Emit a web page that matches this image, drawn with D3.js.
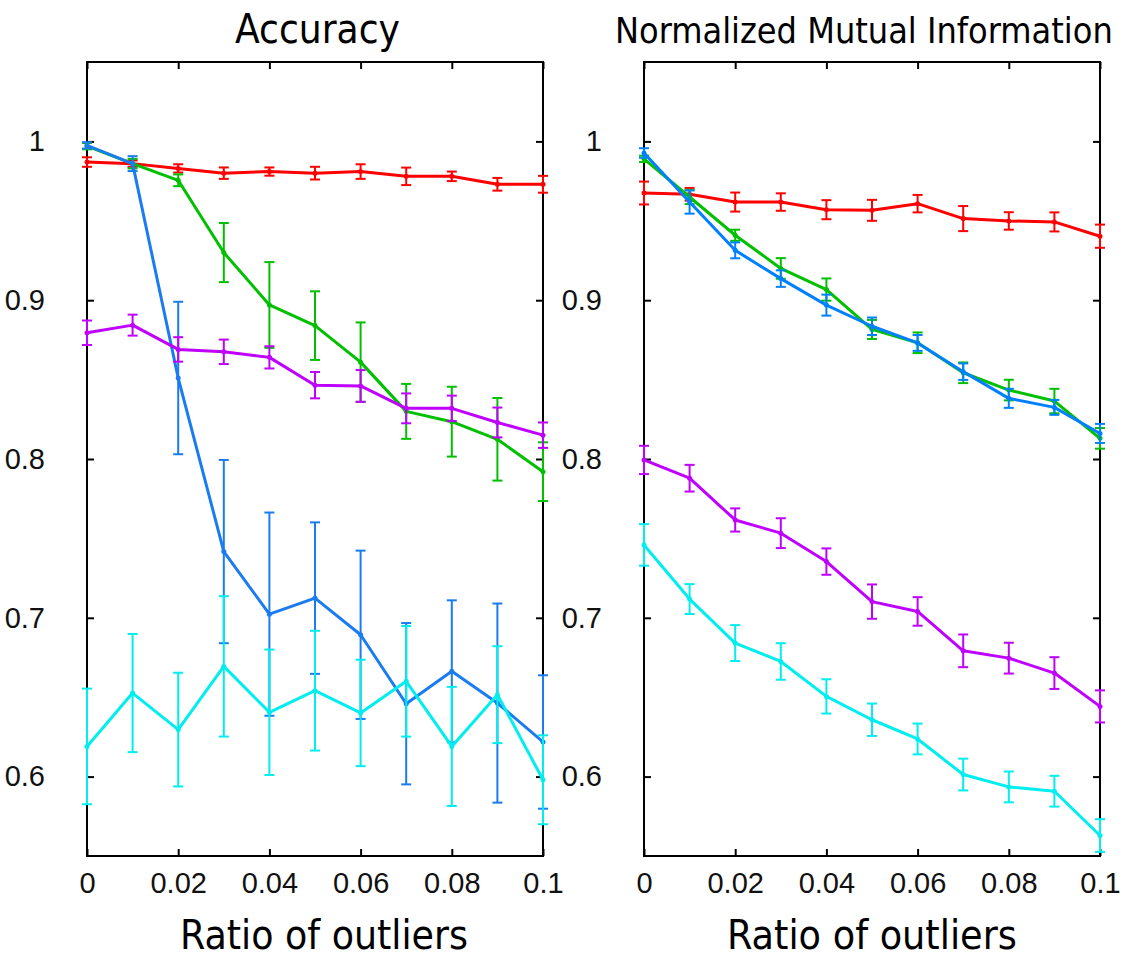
<!DOCTYPE html>
<html><head><meta charset="utf-8">
<script src="https://cdn.jsdelivr.net/npm/d3@7"></script>
<style>body{margin:0;background:#fff}svg{display:block}</style>
</head><body>
<script>
const xs = [0,0.01,0.02,0.03,0.04,0.05,0.06,0.07,0.08,0.09,0.1];
const xTicks = [0,0.02,0.04,0.06,0.08,0.1];
const xTickLabels = ["0","0.02","0.04","0.06","0.08","0.1"];
const yTicks = [0.6,0.7,0.8,0.9,1];
const yTickLabels = ["0.6","0.7","0.8","0.9","1"];
const titles = ["Accuracy","Normalized Mutual Information"];
const xLabel = "Ratio of outliers";

// Accuracy
const accRed = [0.987,0.986,0.983,0.980,0.981,0.980,0.981,0.978,0.978,0.973,0.973];
const accRedErr = [0.003,0.002,0.0026,0.0036,0.0026,0.004,0.0046,0.0055,0.003,0.004,0.0053];
const accGreen = [0.997,0.986,0.9755,0.930,0.897,0.884,0.861,0.830,0.8235,0.8124,0.792];
const accGreenErr = [0.002,0.003,0.0037,0.0186,0.027,0.0216,0.025,0.0173,0.022,0.026,0.0185];
const accBlue = [0.9975,0.986,0.851,0.7417,0.7023,0.7124,0.6893,0.6459,0.6663,0.6463,0.6218];
const accBlueErr = [0.002,0.0047,0.048,0.0577,0.064,0.0477,0.053,0.0508,0.0447,0.0627,0.042];
const accPurple = [0.8795,0.8843,0.869,0.8675,0.864,0.8465,0.846,0.8319,0.8319,0.823,0.815];
const accPurpleErr = [0.0077,0.0066,0.0077,0.0077,0.007,0.0083,0.01,0.0094,0.008,0.0094,0.008];
const accCyan = [0.619,0.6526,0.6296,0.6694,0.6405,0.6541,0.6401,0.66,0.619,0.6516,0.598];
const accCyanErr = [0.0364,0.0372,0.0358,0.0442,0.0395,0.0377,0.0335,0.0348,0.0375,0.0305,0.028];

// NMI
const nmiRed = [0.9675,0.9667,0.9618,0.9618,0.957,0.9566,0.9608,0.9514,0.9499,0.9493,0.9403];
const nmiRedErr = [0.0072,0.004,0.006,0.0055,0.006,0.0066,0.0055,0.0079,0.0055,0.006,0.0073];
const nmiGreen = [0.989,0.965,0.9409,0.92,0.9067,0.8816,0.8732,0.8543,0.8434,0.8365,0.813];
const nmiGreenErr = [0.002,0.0045,0.0035,0.0065,0.007,0.006,0.0065,0.0065,0.0065,0.0077,0.0065];
const nmiBlue = [0.9927,0.9618,0.9314,0.9136,0.8969,0.8836,0.8731,0.855,0.8382,0.8325,0.8161];
const nmiBlueErr = [0.003,0.0073,0.005,0.0052,0.0066,0.0055,0.005,0.0052,0.006,0.0047,0.006];
const nmiPurple = [0.7994,0.7879,0.7616,0.7533,0.7354,0.7102,0.704,0.6792,0.6746,0.6652,0.6442];
const nmiPurpleErr = [0.0089,0.0084,0.0073,0.0094,0.0083,0.0108,0.009,0.0103,0.0097,0.01,0.0101];
const nmiCyan = [0.7459,0.7118,0.6841,0.6725,0.6505,0.6358,0.6237,0.6013,0.5935,0.5908,0.5629];
const nmiCyanErr = [0.0131,0.0094,0.0113,0.0115,0.0108,0.0102,0.0097,0.01,0.0097,0.0097,0.0103];

const colors = {red:"#ff0000", green:"#00c000", blue:"#0080ff", purple:"#c000ff", cyan:"#00eeee"};

const panels = [
  {title:titles[0], left:87, right:543, titleX:235, titleLen:165, titleSize:42, labelX:180, labelLen:288,
   series:[[accRed,accRedErr,colors.red],[accGreen,accGreenErr,colors.green],[accBlue,accBlueErr,"#1a7cf0"],[accPurple,accPurpleErr,colors.purple],[accCyan,accCyanErr,colors.cyan]]},
  {title:titles[1], left:644, right:1100, titleX:615, titleLen:498, titleSize:37, labelX:727, labelLen:290,
   series:[[nmiRed,nmiRedErr,colors.red],[nmiGreen,nmiGreenErr,colors.green],[nmiBlue,nmiBlueErr,colors.blue],[nmiPurple,nmiPurpleErr,colors.purple],[nmiCyan,nmiCyanErr,colors.cyan]]}
];

const W=1127,H=961, plotTop=62, plotBottom=856;
const svg = d3.select("body").append("svg").attr("width",W).attr("height",H);

function fitText(sel, size, target){
  sel.attr("font-size", size);
  const w = sel.node().getComputedTextLength();
  if (w > 0) sel.attr("font-size", size * target / w);
}

panels.forEach(p=>{
  const x = d3.scaleLinear().domain([0,0.1]).range([p.left,p.right]);
  const y = d3.scaleLinear().domain([0.55,1.05]).range([plotBottom,plotTop]);
  const g = svg.append("g");

  g.append("rect").attr("x",p.left).attr("y",plotTop).attr("width",p.right-p.left).attr("height",plotBottom-plotTop)
    .attr("fill","none").attr("stroke","#000").attr("stroke-width",2);

  const tl = 7;
  const xb = d3.axisBottom(x).tickValues(xTicks).tickSize(-tl).tickPadding(16).tickFormat((d,i)=>xTickLabels[i]);
  const gx = g.append("g").attr("transform",`translate(0,${plotBottom})`).call(xb);
  const xt = d3.axisTop(x).tickValues(xTicks).tickSize(-tl).tickFormat("");
  const gxt = g.append("g").attr("transform",`translate(0,${plotTop})`).call(xt);
  const yl = d3.axisLeft(y).tickValues(yTicks).tickSize(-tl).tickPadding(42).tickFormat((d,i)=>yTickLabels[i]);
  const gy = g.append("g").attr("transform",`translate(${p.left},0)`).call(yl);
  const yr = d3.axisRight(y).tickValues(yTicks).tickSize(-tl).tickFormat("");
  const gyr = g.append("g").attr("transform",`translate(${p.right},0)`).call(yr);
  [gx,gxt,gy,gyr].forEach(a=>{
    a.select(".domain").remove();
    a.selectAll(".tick line").attr("stroke","#000").attr("stroke-width",2);
    a.selectAll(".tick text").attr("font-family","Liberation Sans, Arial, sans-serif").attr("font-size",29).attr("fill","#111");
  });
  gx.selectAll(".tick text").attr("dy","0.71em");

  const line = d3.line().x((d,i)=>x(xs[i])).y(d=>y(d));
  p.series.forEach(([vals,errs,c])=>{
    const sg = g.append("g");
    vals.forEach((v,i)=>{
      const cx = x(xs[i]), y1=y(v+errs[i]), y2=y(v-errs[i]);
      sg.append("line").attr("x1",cx).attr("x2",cx).attr("y1",y1).attr("y2",y2).attr("stroke",c).attr("stroke-width",2);
      [y1,y2].forEach(yy=>sg.append("line").attr("x1",cx-5).attr("x2",cx+5).attr("y1",yy).attr("y2",yy).attr("stroke",c).attr("stroke-width",2));
    });
    sg.append("path").datum(vals).attr("d",line).attr("fill","none").attr("stroke",c).attr("stroke-width",3).attr("stroke-linejoin","round");
    sg.selectAll("circle").data(vals).join("circle").attr("cx",(d,i)=>x(xs[i])).attr("cy",d=>y(d)).attr("r",2.5).attr("fill",c);
  });

  const t = svg.append("text").attr("x",p.titleX).attr("y",43)
    .attr("font-family","DejaVu Sans, sans-serif").style("font-stretch","condensed").text(p.title);
  fitText(t, p.titleSize, p.titleLen);
  const l = svg.append("text").attr("x",p.labelX).attr("y",949)
    .attr("font-family","DejaVu Sans, sans-serif").style("font-stretch","condensed").text(xLabel);
  fitText(l, 41, p.labelLen);
});
</script>
</body></html>
